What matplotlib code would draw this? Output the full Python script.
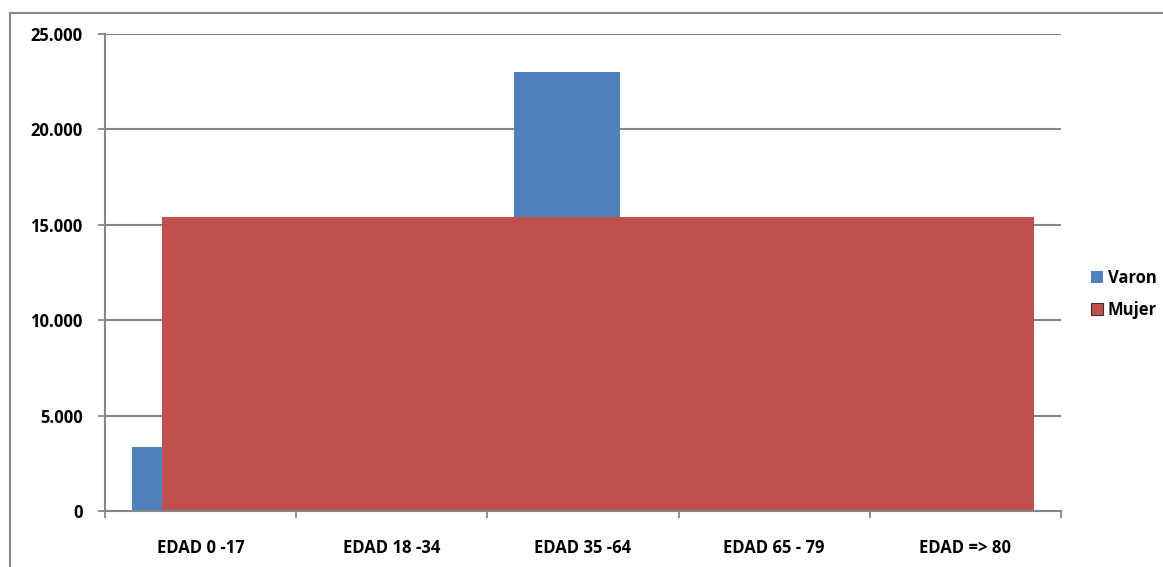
import numpy as np
import matplotlib
matplotlib.use("Agg")
import matplotlib.pyplot as plt
from matplotlib.lines import Line2D
from matplotlib.patches import Patch

# ---------------------------------------------------------------
# Data
# ---------------------------------------------------------------
categories = ["EDAD 0 -17", "EDAD 18 -34", "EDAD 35 -64", "EDAD 65 - 79", "EDAD => 80"]
# Varon values; the ones hidden behind the Mujer bar cannot be read
varon = [3350, np.nan, 23000, np.nan, np.nan]
# Mujer is drawn as one wide bar spanning the categories
mujer = 15400
yticks = [0, 5000, 10000, 15000, 20000, 25000]
ytick_labels = ["0", "5.000", "10.000", "15.000", "20.000", "25.000"]

BLUE = "#4F81BD"
RED = "#C0504D"
GRID = "#868686"

plt.rcParams["font.family"] = ["Open Sans", "DejaVu Sans"]

fig = plt.figure(figsize=(11.63, 5.67), dpi=100)
ax = fig.add_axes([105 / 1163, 1 - 511 / 567, (1061 - 105) / 1163, (511 - 34) / 567])

x = np.arange(len(categories))
bw = 0.554
ax.bar(x - 0.36, varon, width=bw, align="edge", color=BLUE, zorder=2)
# the single Mujer block
ax.bar(-0.202, mujer, width=4.561, align="edge", color=RED, zorder=3)

ax.set_xlim(-0.5, len(categories) - 0.5)
ax.set_ylim(0, 25000)

ax.set_yticks(yticks)
ax.set_yticklabels(ytick_labels, fontsize=12, fontweight="bold")
ax.set_xticks(x)
ax.set_xticklabels(categories, fontsize=12, fontweight="bold")
ax.set_xticks(np.arange(len(categories) + 1) - 0.5, minor=True)

ax.tick_params(axis="x", which="major", length=0, pad=20)
ax.tick_params(axis="x", which="minor", length=5, width=1.3, color=GRID, direction="out")
ax.tick_params(axis="y", length=5, width=1.3, color=GRID, pad=11)

ax.grid(axis="y", color=GRID, linewidth=1.5, zorder=1)
ax.set_axisbelow(True)
for s in ["top", "right"]:
    ax.spines[s].set_visible(False)
for s in ["left", "bottom"]:
    ax.spines[s].set_color(GRID)
    ax.spines[s].set_linewidth(1.5)
    ax.spines[s].set_zorder(4)

handles = [Patch(facecolor=BLUE, edgecolor="none"),
           Patch(facecolor=RED, edgecolor="#333333", linewidth=0.8)]
fig.legend(handles, ["Varon", "Mujer"], loc="center left",
           bbox_to_anchor=(1076 / 1163, 1 - 294 / 567), frameon=False,
           prop={"size": 12, "weight": "bold"}, handlelength=0.7,
           handleheight=0.7, handletextpad=0.3, labelspacing=0.85)

# outer chart frame (only top and left edges visible in the crop)
fig.add_artist(Line2D([10 / 1163, 1.0], [1 - 13 / 567, 1 - 13 / 567],
                      transform=fig.transFigure, color=GRID, linewidth=1.5))
fig.add_artist(Line2D([10 / 1163, 10 / 1163], [0.0, 1 - 13 / 567],
                      transform=fig.transFigure, color=GRID, linewidth=1.5))

fig.savefig("out.png", dpi=100)
